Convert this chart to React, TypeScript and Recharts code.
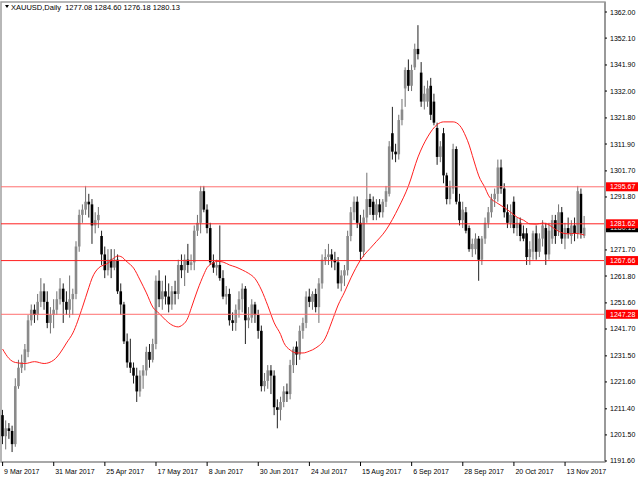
import React from 'react';
import { ComposedChart, Bar, Line, XAxis, YAxis, ReferenceLine, ReferenceArea } from 'recharts';

const symbolTitle = 'XAUUSD,Daily';

const opens = [
  1209,1201,1204,1203,1198,1220,1227,1229,1233,1245,
  1249,1247,1252,1256,1252,1244,1247,1249,1253,1257,
  1252,1249,1253,1255,1273,1285,1287,1290,1289,1281,
  1283,1277,1270,1264,1268,1265,1268,1256,1251,1237,
  1229,1227,1224,1218,1224,1226,1233,1230,1236,1260,
  1253,1256,1254,1251,1256,1255,1266,1264,1268,1266,
  1267,1279,1282,1294,1287,1280,1267,1265,1266,1261,
  1254,1255,1245,1244,1249,1253,1257,1245,1246,1251,
  1247,1241,1220,1222,1226,1224,1212,1211,1214,1218,
  1217,1228,1235,1232,1241,1244,1254,1252,1255,1250,
  1259,1268,1269,1270,1268,1267,1259,1262,1264,1277,
  1286,1290,1282,1271,1284,1291,1290,1285,1289,1286,
  1290,1293,1316,1309,1308,1321,1333,1340,1334,1341,
  1348,1339,1328,1328,1334,1328,1318,1307,1316,1300,
  1291,1295,1310,1290,1283,1286,1280,1272,1272,1276,
  1268,1276,1282,1286,1291,1293,1303,1295,1286,1282,
  1290,1280,1282,1278,1278,1269,1271,1278,1271,1276,
  1280,1270,1276,1283,1279,1286,1276,1280,1277,1281,
  1278,1293,1277.08,
];

const highs = [
  1211,1207,1206,1205,1223,1230,1232,1236,1247,1251,
  1251,1255,1261,1259,1256,1250,1253,1256,1261,1259,
  1256,1262,1257,1275,1287,1289,1296,1293,1291,1286,
  1288,1279,1273,1272,1272,1272,1270,1259,1252,1240,
  1238,1229,1227,1226,1228,1235,1236,1238,1262,1264,
  1260,1262,1259,1258,1260,1268,1270,1270,1274,1270,
  1281,1285,1296,1296,1289,1282,1270,1268,1281,1264,
  1258,1257,1248,1251,1256,1259,1258,1250,1253,1252,
  1249,1243,1225,1228,1228,1226,1215,1216,1220,1221,
  1230,1235,1237,1243,1246,1256,1257,1256,1257,1261,
  1270,1272,1274,1272,1271,1269,1264,1266,1279,1288,
  1292,1292,1285,1287,1301,1293,1292,1291,1291,1291,
  1296,1313,1326,1312,1323,1329,1341,1344,1342,1350,
  1357,1343,1334,1336,1337,1331,1320,1313,1318,1301,
  1298,1312,1311,1293,1290,1288,1281,1276,1278,1277,
  1277,1284,1288,1293,1295,1306,1306,1297,1289,1289,
  1292,1284,1284,1281,1280,1275,1279,1281,1278,1283,
  1282,1282,1285,1285,1289,1288,1282,1284,1283,1284,
  1296,1295,1284.6,
];

const lows = [
  1198,1196,1200,1195,1197,1219,1225,1226,1231,1243,
  1244,1245,1250,1249,1242,1240,1242,1247,1251,1244,
  1247,1246,1247,1253,1271,1282,1285,1284,1274,1278,
  1280,1266,1261,1262,1261,1264,1255,1247,1236,1227,
  1225,1221,1214,1216,1219,1224,1227,1229,1234,1250,
  1249,1251,1248,1249,1251,1253,1261,1258,1263,1264,
  1264,1277,1278,1286,1278,1266,1263,1262,1260,1253,
  1251,1243,1241,1241,1246,1248,1236,1242,1244,1244,
  1238,1218,1218,1219,1217,1209,1204,1207,1212,1214,
  1215,1225,1228,1230,1238,1242,1250,1249,1248,1244,
  1257,1266,1266,1265,1264,1257,1256,1258,1262,1275,
  1283,1280,1268,1269,1282,1285,1283,1283,1284,1284,
  1288,1292,1306,1305,1306,1319,1326,1332,1332,1340,
  1344,1326,1325,1326,1321,1319,1304,1305,1297,1289,
  1289,1293,1289,1281,1280,1278,1271,1269,1270,1260,
  1266,1274,1280,1284,1288,1290,1293,1284,1280,1280,
  1278,1277,1275,1275,1266,1266,1268,1268,1269,1273,
  1266,1268,1274,1274,1277,1274,1272,1276,1274,1275,
  1276,1276,1276.18,
];

const closes = [
  1201,1204,1203,1198,1220,1227,1229,1234,1245,1249,
  1247,1252,1256,1252,1244,1247,1249,1253,1257,1252,
  1249,1253,1255,1273,1285,1287,1290,1289,1281,1283,
  1285,1270,1264,1268,1265,1268,1256,1251,1237,1229,
  1227,1224,1218,1224,1226,1233,1230,1236,1260,1253,
  1256,1254,1251,1256,1255,1266,1264,1268,1266,1267,
  1279,1282,1294,1287,1280,1267,1265,1266,1261,1254,
  1255,1245,1244,1249,1253,1257,1245,1246,1251,1247,
  1241,1220,1222,1226,1224,1212,1211,1214,1218,1217,
  1228,1234,1232,1241,1244,1254,1252,1255,1250,1259,
  1268,1269,1270,1268,1267,1259,1262,1264,1277,1286,
  1290,1282,1271,1284,1291,1288,1285,1289,1286,1290,
  1294,1311,1309,1308,1321,1325,1340,1334,1340,1348,
  1346,1328,1331,1333,1323,1320,1307,1311,1300,1291,
  1296,1310,1290,1283,1287,1279,1272,1274,1276,1268,
  1276,1282,1286,1291,1293,1303,1295,1286,1282,1285,
  1280,1282,1277,1276,1269,1272,1278,1271,1276,1281,
  1270,1279,1283,1277,1286,1276,1280,1278,1281,1278,
  1294,1278,1280.13,
];

// moving average at these bars
const maBars = [0,2,4,7,10,13,16,18,20,22,25,27,28,30,33,35,36,37,39,41,43,45,47,49,51,53,55,56,58,59,61,63,64,66,67,69,71,73,75,77,79,81,83,85,87,88,90,92,94,96,98,101,103,105,107,109,112,116,120,124,127,130,133,136,138,141,143,145,146,147,148,149,151,152,155,157,159,161,163,165,167,169,171,173,175,177,179,182];
const maValues = [1234.1,1230.5,1229.0,1228.6,1229.3,1228.6,1229.9,1232.6,1236.4,1240.2,1250.0,1257.5,1261.0,1264.8,1266.7,1268.8,1269.4,1269.2,1267.1,1264.8,1260.3,1255.4,1250.0,1247.6,1245.1,1243.2,1242.5,1243.0,1246.0,1249.5,1256.5,1262.5,1265.0,1266.8,1267.4,1267.1,1266.0,1265.2,1264.1,1262.8,1260.8,1256.5,1250.5,1244.0,1239.6,1236.5,1233.7,1232.6,1232.6,1233.3,1234.5,1238.3,1244.4,1250.8,1255.7,1261.1,1267.9,1273.6,1279.3,1288.0,1296.0,1307.0,1314.6,1319.3,1320.3,1320.3,1319.0,1314.6,1311.5,1307.5,1303.5,1299.8,1295.2,1292.5,1289.3,1287.8,1286.0,1284.1,1283.0,1281.6,1281.5,1281.9,1281.2,1279.5,1278.2,1277.8,1278.0,1277.4];

const dateTickBars = [0,16,32,48,64,80,96,112,128,144,160,176];
const dateTickLabels = ['9 Mar 2017','31 Mar 2017','25 Apr 2017','17 May 2017','8 Jun 2017','30 Jun 2017','24 Jul 2017','15 Aug 2017','6 Sep 2017','28 Sep 2017','20 Oct 2017','13 Nov 2017'];

const priceTicks = [1362.0,1352.1,1341.9,1332.0,1321.8,1311.9,1301.7,1291.8,1271.7,1261.8,1251.6,1241.7,1231.5,1221.6,1211.4,1201.5,1191.6];

const levelPrices = [1295.67, 1281.62, 1267.66, 1247.28];
const levelColors = ['#ff7070', '#ff2020', '#ff2020', '#ff7070'];
const bidPrice = 1280.13;

const Y_MIN = 1191.22;
const Y_MAX = 1365.8;
const EMPTY_SLOTS = 6;
const FONT = 'Liberation Sans, Arial, sans-serif';

const maMap = new Map<number, number>();
maBars.forEach((b, k) => maMap.set(b, maValues[k]));

const rows: any[] = opens.map((o, i) => ({
  i,
  o,
  h: highs[i],
  l: lows[i],
  c: closes[i],
  ma: maMap.has(i) ? maMap.get(i) : null,
}));
for (let k = 0; k < EMPTY_SLOTS; k++) {
  rows.push({ i: opens.length + k, o: null, h: null, l: null, c: null, ma: null });
}

const Candle = (props: any) => {
  const { x, y, width, height, payload } = props;
  if (!payload || payload.o == null || y == null) return <g />;
  const { o, h, l, c } = payload;
  const range = h - l;
  const k = range > 0 ? height / range : 0;
  const yO = y + (h - o) * k;
  const yC = y + (h - c) * k;
  const cx = x + width / 2;
  const bull = c >= o;
  const top = Math.min(yO, yC);
  const bh = Math.max(Math.abs(yC - yO), 1);
  const bw = 2.6;
  return (
    <g>
      <line x1={cx} x2={cx} y1={y} y2={y + height} stroke={bull ? '#707070' : '#202020'} strokeWidth={1} />
      <rect x={cx - bw / 2} y={top} width={bw} height={bh} fill={bull ? '#8a8a8a' : '#000000'} />
    </g>
  );
};

const PriceTick = (props: any) => {
  const { x, y, payload } = props;
  return (
    <g>
      <line x1={x} x2={x + 2} y1={y} y2={y} stroke="#000" strokeWidth={1} />
      <text x={x + 5} y={y + 2.5} fontSize={7} fontFamily={FONT} fill="#000">
        {Number(payload.value).toFixed(2)}
      </text>
    </g>
  );
};

const DateTick = (props: any) => {
  const { x, y, payload } = props;
  const idx = dateTickBars.indexOf(Number(payload.value));
  if (idx < 0) return <g />;
  return (
    <g>
      <line x1={x} x2={x} y1={y} y2={y + 4} stroke="#000" strokeWidth={1} />
      <text x={x + 1.5} y={y + 12} fontSize={7} fontFamily={FONT} fill="#000">
        {dateTickLabels[idx]}
      </text>
    </g>
  );
};

const makeTag = (value: number, bg: string, fg: string) => (p: any) => {
  const vb = p.viewBox || {};
  const bx = vb.x + vb.width + 1;
  const y = vb.y;
  return (
    <g>
      <rect x={bx} y={y - 4.5} width={32} height={9} fill={bg} />
      <text x={bx + 4} y={y + 2.5} fontSize={7} fontFamily={FONT} fill={fg}>
        {value.toFixed(2)}
      </text>
    </g>
  );
};

export default function App() {
  const last = opens.length - 1;
  return (
    <div style={{ position: 'absolute', left: 0, top: 0, width: 640, height: 480, background: '#fff' }}>
      <ComposedChart
        width={640}
        height={480}
        data={rows}
        margin={{ top: 2, right: 0, bottom: 0, left: 1 }}
        barCategoryGap={0}
      >
        <XAxis
          dataKey="i"
          type="category"
          ticks={dateTickBars}
          interval={0}
          height={18}
          tickSize={0}
          tickMargin={0}
          tickLine={false}
          axisLine={{ stroke: '#999', strokeWidth: 1 }}
          tick={<DateTick />}
        />
        <YAxis
          orientation="right"
          type="number"
          domain={[Y_MIN, Y_MAX]}
          allowDataOverflow
          ticks={priceTicks}
          interval={0}
          width={35}
          tickSize={0}
          tickMargin={0}
          tickLine={false}
          axisLine={{ stroke: '#999', strokeWidth: 2 }}
          tick={<PriceTick />}
        />
        <ReferenceArea y1={Y_MIN} y2={Y_MAX} fill="none" stroke="#a0a0a0" strokeWidth={1.5} ifOverflow="visible" />
        <Bar
          dataKey={(d: any) => (d.o == null ? null : [d.l, d.h])}
          barSize={3}
          shape={(p: any) => <Candle {...p} />}
          isAnimationActive={false}
        />
        <Line
          dataKey="ma"
          type="monotone"
          connectNulls
          stroke="#ff2020"
          strokeWidth={1}
          dot={false}
          activeDot={false}
          isAnimationActive={false}
        />
        <ReferenceLine y={bidPrice} stroke="none" label={makeTag(bidPrice, '#000', '#fff')} />
        {levelPrices.map((p, k) => (
          <ReferenceLine key={p} y={p} stroke={levelColors[k]} strokeWidth={1} label={makeTag(p, '#ff0000', '#fff')} />
        ))}
      </ComposedChart>
      <svg style={{ position: 'absolute', left: 0, top: 0 }} width={220} height={14}>
        <path d="M5 5 L9 5 L7 8 Z" fill="#000" />
        <text x={11} y={10} fontSize={7.5} fontFamily={FONT} fill="#000" xmlSpace="preserve">
          {`${symbolTitle}  ${opens[last].toFixed(2)} ${highs[last].toFixed(2)} ${lows[last].toFixed(2)} ${closes[last].toFixed(2)}`}
        </text>
      </svg>
    </div>
  );
}
